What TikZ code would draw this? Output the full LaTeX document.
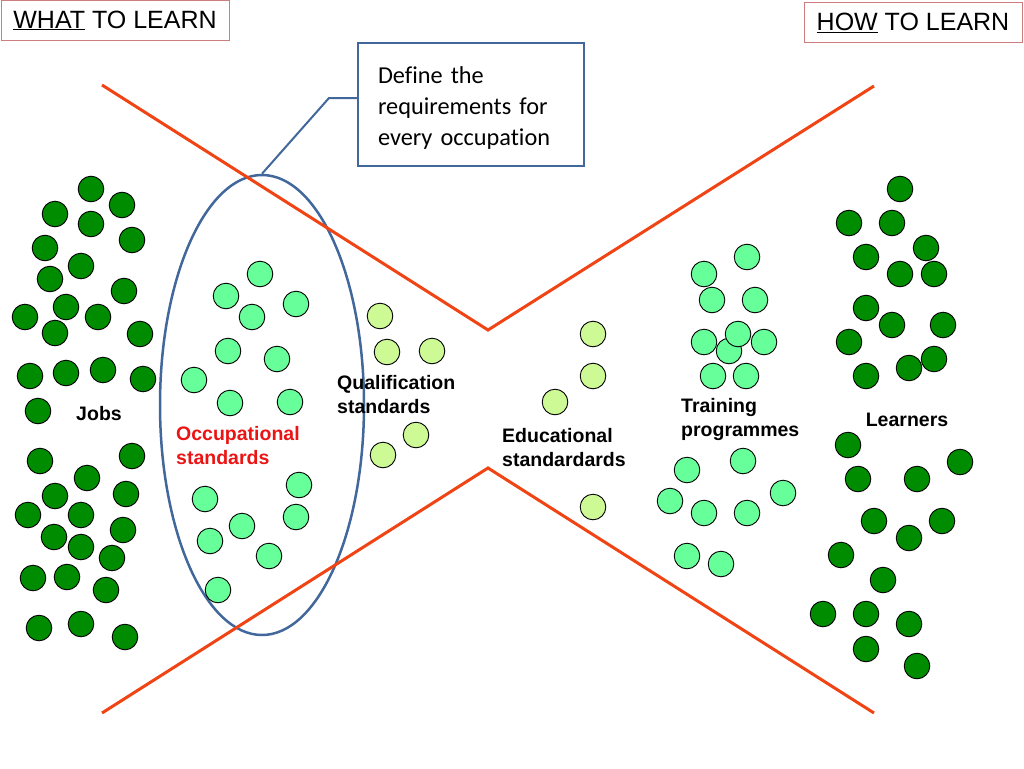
\documentclass[tikz,border=0pt]{standalone}
\usepackage{fontspec}
\setmainfont{Liberation Sans}
\newfontfamily\calloutfont[Ligatures={NoCommon}]{Carlito}
\usetikzlibrary{shapes.geometric}

\definecolor{jobgreen}{RGB}{0,140,0}
\definecolor{occgreen}{RGB}{102,255,153}
\definecolor{qualgreen}{RGB}{206,250,150}
\definecolor{waistred}{RGB}{240,68,20}
\definecolor{frameblue}{RGB}{65,103,155}
\definecolor{tagpink}{RGB}{205,125,125}
\definecolor{occred}{RGB}{235,20,20}

\begin{document}
\begin{tikzpicture}[x=1pt,y=-1pt,
    dot/.style={draw=black, line width=0.9pt},
    jobdot/.style={dot, fill=jobgreen},
    occdot/.style={dot, fill=occgreen},
    qualdot/.style={dot, fill=qualgreen},
    waist/.style={draw=waistred, line width=3pt},
    tag/.style={draw=tagpink, line width=1pt, minimum height=40, inner sep=0pt,
      font=\fontsize{25}{30}\selectfont},
    grouptext/.style={inner sep=0pt, align=left, font=\fontsize{19.5}{24}\selectfont\bfseries}]

          \useasboundingbox (0,0) rectangle (1024,768);

          % headings
          \node[tag, minimum width=228] (what) at (115,20.5) {\underline{WHAT} TO LEARN};
          \node[tag, minimum width=218] (how) at (913,23) {\underline{HOW} TO LEARN};

          % the ring round the occupational standards
          \node[draw=frameblue, line width=2.5pt, ellipse, minimum width=204,
            minimum height=460, inner sep=0pt] (occ) at (262,405) {};

          % the hourglass
          \draw[waist] (102,85) -- (488,330) -- (874,86);
          \draw[waist] (102,713) -- (488,468) -- (874,713);

          % jobs
          \foreach \x/\y in {91/189,122/205,55/214,91/224,132/240,45/248,81/266,50/279,
            124/291,66/307,25/317,98/317,55/333,140/334,30/376,66/373,103/370,143/379,
            38/411,40/461,132/456,87/478,55/496,126/494,28/515,81/515,54/537,123/530,
            81/547,112/558,33/578,67/577,106/590,39/628,81/624,125/637}{
            \draw[jobdot] (\x,\y) circle [radius=12.8pt];
          }

          % occupational standards
          \foreach \x/\y in {260/274,226/296,296/304,252/317,228/351,277/359,194/380,
            230/403,290/402,205/499,299/485,242/526,296/517,210/541,269/556,218/590}{
            \draw[occdot] (\x,\y) circle [radius=12.8pt];
          }

          % qualification and educational standards
          \foreach \x/\y in {380/316,387/352,432/351,416/435,383/455,
            593/334,593/376,555/402,593/507}{
            \draw[qualdot] (\x,\y) circle [radius=12.8pt];
          }

          % training programmes
          \foreach \x/\y in {747/257,704/274,712/300,755/300,704/342,729/351,738/334,
            764/342,713/376,746/376,687/470,743/461,670/501,704/513,747/513,783/493,
            687/556,721/564}{
            \draw[occdot] (\x,\y) circle [radius=12.8pt];
          }

          % learners
          \foreach \x/\y in {900/189,849/223,892/223,926/248,866/257,900/274,934/274,
            866/308,892/325,943/325,849/342,934/359,909/368,866/376,848/445,858/479,
            917/479,960/462,874/521,942/521,909/538,841/555,883/580,823/614,866/614,
            909/624,866/649,917/666}{
            \draw[jobdot] (\x,\y) circle [radius=12.8pt];
          }

          % callout
          \node[draw=frameblue, line width=2pt, minimum width=226, minimum height=123,
            text width=186, inner xsep=20pt, align=left,
            font=\calloutfont\fontsize{24.3}{31}\selectfont] (callout) at (471,104.5)
            {\rule{0pt}{23pt}Define the\\requirements for\\every occupation};
          \coordinate (bend) at (329,98);
          \draw[frameblue, line width=2pt] (callout.west |- bend) -- (bend) -- (occ.north);

          % group names
          \node[grouptext, anchor=north] (jobs) at (99,406) {Jobs};
          \node[grouptext, anchor=north west, text=occred] (occtext) at (176,426) {Occupational\\standards};
          \node[grouptext, anchor=north west] (qualtext) at (337,375) {Qualification\\standards};
          \node[grouptext, anchor=north west] (edutext) at (502,428) {Educational\\standardards};
          \node[grouptext, anchor=north west] (traintext) at (681,398) {Training\\programmes};
          \node[grouptext, anchor=north] (learners) at (907,413) {Learners};

        \end{tikzpicture}
\end{document}
